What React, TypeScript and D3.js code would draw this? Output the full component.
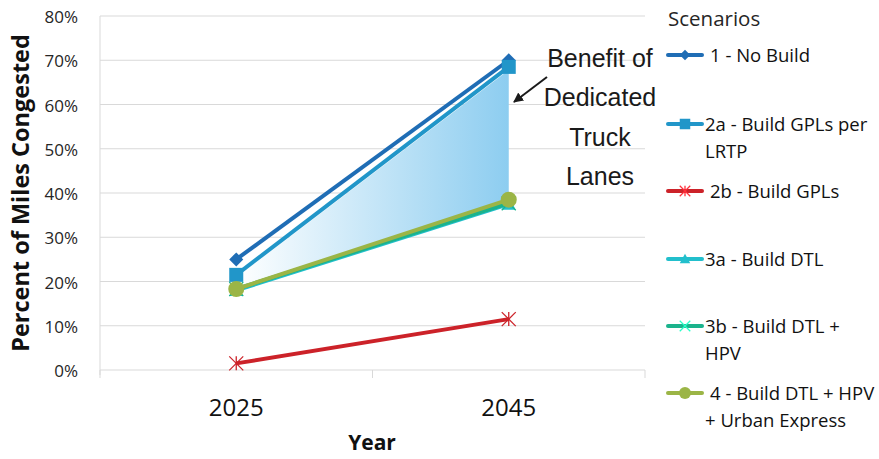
import React from 'react';
import * as d3 from 'd3';

const years = ['2025', '2045'];
const yTicks = [0, 0.1, 0.2, 0.3, 0.4, 0.5, 0.6, 0.7, 0.8];

const noBuild = [0.25, 0.70];
const gplsLrtp = [0.215, 0.685];
const gpls = [0.015, 0.115];
const dtl = [0.18, 0.375];
const dtlHpv = [0.183, 0.377];
const dtlHpvUrban = [0.183, 0.385];

const series = [
  { name: '1 - No Build', lines: ['1 - No Build'], values: noBuild, color: '#1f6db5', marker: 'diamond' },
  { name: '2a', lines: ['2a - Build GPLs per', 'LRTP'], values: gplsLrtp, color: '#2196c9', marker: 'square' },
  { name: '2b', lines: ['2b - Build GPLs'], values: gpls, color: '#cc2229', marker: 'star' },
  { name: '3a', lines: ['3a - Build DTL'], values: dtl, color: '#22bfcc', marker: 'triangle' },
  { name: '3b', lines: ['3b - Build DTL +', 'HPV'], values: dtlHpv, color: '#1bb38c', marker: 'x' },
  { name: '4', lines: ['4 - Build DTL + HPV', '+ Urban Express'], values: dtlHpvUrban, color: '#9bb546', marker: 'circle' },
];

const legendY = [55, 124, 191, 259, 326, 393];
const annotation = ['Benefit of', 'Dedicated', 'Truck', 'Lanes'];

const font = '"Open Sans", "Noto Sans", sans-serif';

function Marker({ type, x, y, color, legend }: { type: string; x: number; y: number; color: string; legend?: boolean }) {
  const s = legend ? 0.75 : 1;
  if (type === 'diamond') {
    const r = 7 * s;
    return <path d={`M${x},${y - r}L${x + r},${y}L${x},${y + r}L${x - r},${y}Z`} fill={color} />;
  }
  if (type === 'square') {
    const r = 7 * s;
    return <rect x={x - r} y={y - r} width={2 * r} height={2 * r} fill={color} />;
  }
  if (type === 'triangle') {
    const r = 7 * s;
    return <path d={`M${x},${y - r}L${x + r},${y + r * 0.8}L${x - r},${y + r * 0.8}Z`} fill={color} />;
  }
  if (type === 'circle') {
    return <circle cx={x} cy={y} r={8 * s} fill={color} />;
  }
  const r = 7 * s;
  const lightColor = legend ? d3.color(color)!.brighter(1).toString() : color;
  return (
    <g stroke={lightColor} strokeWidth={1.3}>
      <line x1={x - r} y1={y - r} x2={x + r} y2={y + r} />
      <line x1={x - r} y1={y + r} x2={x + r} y2={y - r} />
      {type === 'star' && <line x1={x} y1={y - r} x2={x} y2={y + r} />}
    </g>
  );
}

export default function App() {
  const width = 879;
  const height = 459;
  const left = 100;
  const right = 645;
  const top = 16;
  const bottom = 370;

  const x = d3.scaleBand().domain(years).range([left, right]);
  const cx = (d: string) => (x(d) || 0) + x.bandwidth() / 2;
  const y = d3.scaleLinear().domain([0, 0.8]).range([bottom, top]);

  const line = d3
    .line<number>()
    .x((_, i) => cx(years[i]))
    .y((v) => y(v));

  const area = d3
    .area<number>()
    .x((_, i) => cx(years[i]))
    .y0((_, i) => y(dtlHpvUrban[i]))
    .y1((v) => y(v) + 3);

  return (
    <svg width={width} height={height} style={{ position: 'absolute', left: 0, top: 0, background: '#fff' }}>
      <defs>
        <linearGradient id="benefit" x1={cx(years[0])} x2={cx(years[1])} y1={0} y2={0} gradientUnits="userSpaceOnUse">
          <stop offset="0" stopColor="#ffffff" />
          <stop offset="1" stopColor="#8dcdf0" />
        </linearGradient>
        <marker id="arrow" viewBox="0 0 10 10" refX="9" refY="5" markerWidth="5" markerHeight="5" orient="auto">
          <path d="M0,0L10,5L0,10Z" fill="#1a1a1a" />
        </marker>
      </defs>

      {yTicks.map((t) => (
        <line key={t} x1={left} x2={right} y1={y(t)} y2={y(t)} stroke="#d9d9d9" strokeWidth={1} />
      ))}
      <line x1={left} x2={left} y1={top} y2={bottom + 5} stroke="#d9d9d9" />
      {[left, ...years.map((d) => (x(d) || 0) + x.bandwidth())].map((v, i) => (
        <line key={i} x1={v} x2={v} y1={bottom} y2={bottom + 8} stroke="#d9d9d9" />
      ))}
      {yTicks.map((t) => (
        <text key={t} x={78} y={y(t) + 7} textAnchor="end" fontFamily={font} fontSize={17} fill="#262626">
          {`${Math.round(t * 100)}%`}
        </text>
      ))}
      {years.map((d) => (
        <text key={d} x={cx(d)} y={416} textAnchor="middle" fontFamily={font} fontSize={24} fill="#111">
          {d}
        </text>
      ))}
      <text x={372} y={450} textAnchor="middle" fontFamily={font} fontSize={21} fontWeight="bold" fill="#111">
        Year
      </text>
      <text
        transform={`translate(29,${(top + bottom) / 2}) rotate(-90)`}
        textAnchor="middle"
        fontFamily={font}
        fontSize={23.5}
        fontWeight="bold"
        fill="#111"
      >
        Percent of Miles Congested
      </text>

      <path d={area(gplsLrtp) || ''} fill="url(#benefit)" />

      {series.map((s) => (
        <g key={s.name}>
          <path d={line(s.values) || ''} fill="none" stroke={s.color} strokeWidth={4} />
          {s.values.map((v, i) => (
            <Marker key={i} type={s.marker} x={cx(years[i])} y={y(v)} color={s.color} />
          ))}
        </g>
      ))}

      {annotation.map((t, i) => (
        <text key={t} x={600} y={67 + i * 39.3} textAnchor="middle" fontFamily='"Liberation Sans", Arial, sans-serif' fontSize={25} fill="#1a1a1a">
          {t}
        </text>
      ))}
      <line x1={547} y1={77} x2={514} y2={102} stroke="#1a1a1a" strokeWidth={2} markerEnd="url(#arrow)" />

      <text x={668} y={26} fontFamily={font} fontSize={20.5} fill="#262626">
        Scenarios
      </text>
      {series.map((s, i) => (
        <g key={s.name}>
          <line x1={668} x2={702} y1={legendY[i]} y2={legendY[i]} stroke={s.color} strokeWidth={4} strokeLinecap="round" />
          <Marker type={s.marker} x={685} y={legendY[i]} color={s.color} legend />
          {s.lines.map((t, j) => (
            <text key={j} x={j > 0 || !/^(1|2b|4)/.test(t) ? 705 : 710} y={legendY[i] + 7 + j * 27} fontFamily={font} fontSize={18.5} fill="#111">
              {t}
            </text>
          ))}
        </g>
      ))}
    </svg>
  );
}
